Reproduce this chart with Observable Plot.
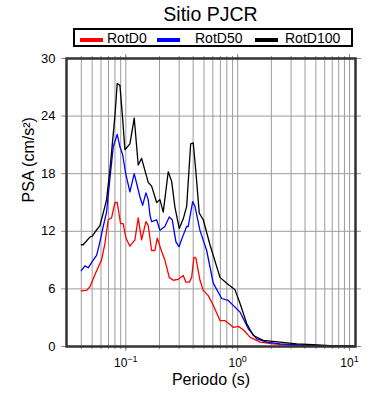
<!DOCTYPE html>
<html><head><meta charset="utf-8">
<script src="https://cdn.jsdelivr.net/npm/d3@7"></script>
<script src="https://cdn.jsdelivr.net/npm/@observablehq/plot@0.6"></script>
<style>
body{margin:0;background:#fff;font-family:"Liberation Sans",Arial,sans-serif;color:#000;}
#wrap{width:390px;}
#head{position:relative;height:50px;}
#title{position:absolute;left:0;width:421px;text-align:center;top:4px;font-size:19.5px;line-height:20px;}
#legend{position:absolute;left:73px;top:28px;width:280px;height:19px;box-sizing:border-box;border:2px solid #000;}
.sw{position:absolute;height:4px;top:38px;width:23px;}
.lt{position:absolute;top:31px;font-size:14px;line-height:14px;white-space:nowrap;}
svg{display:block;}
</style>
</head><body>
<div id="wrap">
  <div id="head">
    <div id="title">Sitio PJCR</div>
    <div id="legend"></div>
  </div>
  <div id="chart"></div>
</div>
<script>
// ---- data ----
const seriesNames = ["RotD0", "RotD50", "RotD100"];
const seriesColors = ["#ff0000", "#0000ff", "#000000"];

const periodsRotD0 = [0.040,0.0446,0.0477,0.0548,0.0607,0.065,0.0696,0.0746,0.0799,0.0838,0.0898,0.0948,0.1002,0.1088,0.1206,0.1291,0.1384,0.1513,0.1586,0.1701,0.1821,0.191,0.209,0.2237,0.2444,0.2655,0.2942,0.3262,0.3449,0.369,0.3878,0.4065,0.4236,0.46,0.4924,0.5458,0.6048,0.6945,0.7696,0.9133,1.012,1.122,1.288,1.583,2.082,3.371,6.693,11];
const psaRotD0 = [5.8,5.85,6.2,7.9,9.0,10.7,13.2,13.4,15.0,15.0,12.8,12.8,11.3,10.45,11.1,13.4,11.1,13.0,12.6,10.0,10.0,11.3,9.9,9.0,7.2,6.9,7.0,7.4,6.7,6.7,7.2,9.3,9.2,6.9,5.85,5.3,4.3,2.7,2.7,2.0,2.1,1.75,0.97,0.45,0.28,0.1,0.03,0.0];

const periodsRotD50 = [0.040,0.0431,0.0461,0.0511,0.0548,0.0587,0.0628,0.0673,0.0721,0.0772,0.0838,0.0886,0.0936,0.1002,0.1088,0.1189,0.1337,0.1413,0.1513,0.1586,0.1643,0.1701,0.1886,0.2018,0.2237,0.2444,0.26,0.2806,0.2985,0.3262,0.3499,0.3615,0.3958,0.415,0.46,0.5281,0.6048,0.7191,0.824,0.9459,1.048,1.244,1.479,1.817,2.39,4.716,11];
const psaRotD50 = [7.9,8.4,8.2,9.0,9.5,10.9,12.5,14.0,17.5,20.8,22.1,20.8,20.0,17.9,16.1,18.0,15.6,14.7,16.0,15.3,13.7,13.0,13.2,12.1,12.5,13.5,13.2,10.9,10.4,11.6,12.5,12.5,15.1,14.6,12.1,10.0,6.6,5.0,4.8,4.1,3.6,1.85,0.8,0.45,0.28,0.1,0.03];

const periodsRotD100 = [0.040,0.0416,0.0477,0.0501,0.0529,0.0587,0.0628,0.0673,0.0721,0.0799,0.0838,0.0886,0.0936,0.0981,0.1088,0.1189,0.1291,0.1384,0.1586,0.1701,0.1886,0.2018,0.216,0.2394,0.2569,0.2749,0.3003,0.3262,0.3499,0.3798,0.4008,0.4236,0.4534,0.4924,0.5653,0.6945,0.7973,0.9459,1.048,1.204,1.379,1.694,2.39,3.371,4.716,6.693,11];
const psaRotD100 = [10.6,10.6,11.4,11.5,11.9,12.6,13.9,15.3,18.4,24.0,27.4,27.2,23.8,20.5,21.1,23.8,18.9,19.6,17.1,16.7,15.0,15.3,14.0,18.2,17.2,14.5,12.3,13.3,14.6,21.1,21.2,18.1,13.9,13.2,10.6,7.2,6.6,5.9,4.5,2.4,1.15,0.63,0.45,0.28,0.18,0.1,0.07];

const yTicks = [0, 6, 12, 18, 24, 30];
const yGrid = [6, 12, 18, 24];
const xTickValues = [0.1, 1, 10];
const xTickExponents = ["\u22121", "0", "1"];
const gridPeriods = [0.04,0.05,0.06,0.07,0.08,0.09,0.1,0.2,0.3,0.4,0.5,0.6,0.7,0.8,0.9,1,2,3,4,5,6,7,8,9,10];
const xLabel = "Periodo (s)";
const yLabel = "PSA (cm/s\u00b2)";

// ---- build tables ----
const seriesPeriods = [periodsRotD0, periodsRotD50, periodsRotD100];
const seriesValues = [psaRotD0, psaRotD50, psaRotD100];
const tables = seriesNames.map((name, k) =>
  seriesPeriods[k].map((p, i) => ({series: name, period: p, psa: seriesValues[k][i]})));

// ---- legend ----
const legend = document.getElementById("head");
const swX = [80, 157, 255];
const txX = [107, 195, 285];
seriesNames.forEach((n, k) => {
  const s = document.createElement("div");
  s.className = "sw"; s.style.left = swX[k] + "px"; s.style.background = seriesColors[k];
  legend.appendChild(s);
  const t = document.createElement("div");
  t.className = "lt"; t.style.left = txX[k] + "px"; t.textContent = n;
  legend.appendChild(t);
});

const font = '"Liberation Sans", Arial, sans-serif';
const tickGrey = "#8c8c8c";
const gridGrey = "#9c9c9c";

const chart = Plot.plot({
  width: 390, height: 350,
  marginTop: 8, marginBottom: 54, marginLeft: 66, marginRight: 35,
  style: {fontFamily: font, fontSize: "13px", color: "#000", background: "#fff", overflow: "visible"},
  x: {type: "log", domain: [0.0295, 11.3]},
  y: {domain: [0, 30]},
  marks: [
    Plot.ruleX(gridPeriods, {stroke: gridGrey, strokeWidth: 1}),
    Plot.ruleY(yGrid, {stroke: gridGrey, strokeWidth: 1}),
    ...tables.map((tb, k) => Plot.line(tb, {x: "period", y: "psa", stroke: seriesColors[k], strokeWidth: 1.3})),
    Plot.axisX({anchor: "bottom", ticks: gridPeriods, tickSize: 3, stroke: tickGrey, fill: "none", label: null}),
    Plot.axisX({anchor: "top", ticks: gridPeriods, tickSize: 3, stroke: tickGrey, fill: "none", label: null}),
    Plot.axisX({anchor: "bottom", ticks: xTickValues, tickSize: 5, stroke: tickGrey, fill: "none", label: null}),
    Plot.axisX({anchor: "top", ticks: xTickValues, tickSize: 5, stroke: tickGrey, fill: "none", label: null}),
    Plot.axisX({anchor: "bottom", ticks: xTickValues, tickSize: 0, tickPadding: 12, fontSize: 12, label: null,
      tickFormat: d => "10^" + xTickExponents[xTickValues.indexOf(d)]}),
    Plot.axisY({anchor: "left", ticks: yTicks, tickSize: 5, tickPadding: 6, stroke: tickGrey, fontSize: 13, label: null}),
    Plot.axisY({anchor: "right", ticks: yTicks, tickSize: 5, stroke: tickGrey, fill: "none", label: null}),
    Plot.frame({stroke: "#333", strokeWidth: 2.5}),
    Plot.text([xLabel], {text: d => d, frameAnchor: "bottom", dy: 38, fontSize: 16}),
    Plot.text([yLabel], {text: d => d, frameAnchor: "left", dx: -38, rotate: -90, fontSize: 16})
  ]
});

// superscript exponents on the x tick labels
const NS = "http://www.w3.org/2000/svg";
chart.querySelectorAll("text").forEach(t => {
  const m = t.textContent.match(/^10\^(.+)$/);
  if (!m) return;
  while (t.firstChild) t.removeChild(t.firstChild);
  const a = document.createElementNS(NS, "tspan"); a.textContent = "10";
  const b = document.createElementNS(NS, "tspan"); b.textContent = m[1];
  b.setAttribute("dy", "-5"); b.setAttribute("font-size", "9");
  t.append(a, b);
});

document.getElementById("chart").appendChild(chart);
</script>
</body></html>
